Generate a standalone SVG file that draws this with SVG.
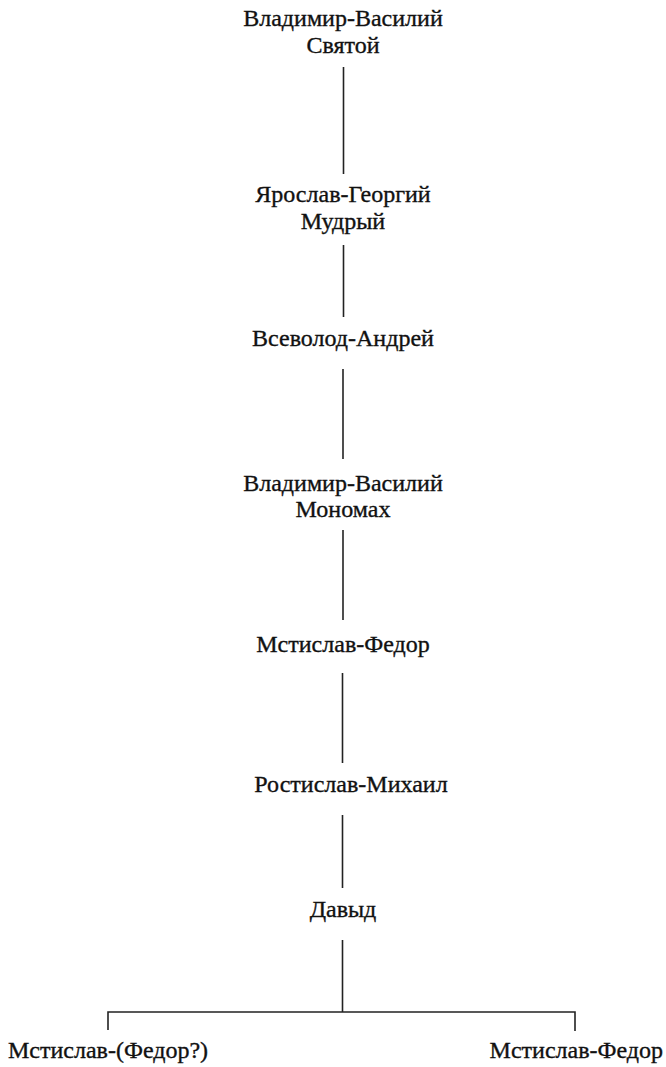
<svg xmlns="http://www.w3.org/2000/svg" width="666" height="1067" viewBox="0 0 666 1067">
<style>
text{font-family:'Liberation Serif','Times New Roman',serif;font-size:24px;fill:#111;stroke:#111;stroke-width:0.35;}
.c{text-anchor:middle;}
.ln{stroke:#222;stroke-width:1.6;fill:none;}
</style>
<rect width="666" height="1067" fill="#fff"/>
<g id="connectors">
<line class="ln" x1="343.5" y1="67" x2="343.5" y2="174"/>
<line class="ln" x1="343.5" y1="245" x2="343.5" y2="317"/>
<line class="ln" x1="343" y1="369" x2="343" y2="459"/>
<line class="ln" x1="343" y1="530" x2="343" y2="620"/>
<line class="ln" x1="342.5" y1="673" x2="342.5" y2="763"/>
<line class="ln" x1="342.5" y1="815" x2="342.5" y2="888"/>
<line class="ln" x1="342.5" y1="940" x2="342.5" y2="1012"/>
<polyline class="ln" points="108,1030 108,1012 575,1012 575,1031"/>
</g>
<g id="n1"><text class="c" x="343" y="26">Владимир-Василий</text><text class="c" x="343" y="53">Святой</text></g>
<g id="n2"><text class="c" x="343" y="202">Ярослав-Георгий</text><text class="c" x="343" y="229">Мудрый</text></g>
<g id="n3"><text class="c" x="343" y="346">Всеволод-Андрей</text></g>
<g id="n4"><text class="c" x="343" y="491">Владимир-Василий</text><text class="c" x="343" y="517">Мономах</text></g>
<g id="n5"><text class="c" x="343" y="652">Мстислав-Федор</text></g>
<g id="n6"><text class="c" x="351" y="792">Ростислав-Михаил</text></g>
<g id="n7"><text class="c" x="343" y="917">Давыд</text></g>
<g id="n8"><text x="8" y="1058">Мстислав-(Федор?)</text></g>
<g id="n9"><text x="663" y="1058" text-anchor="end">Мстислав-Федор</text></g>
</svg>
